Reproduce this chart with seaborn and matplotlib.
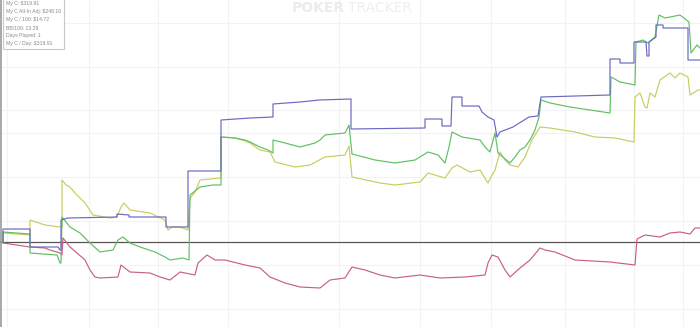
import matplotlib
matplotlib.use("Agg")
import matplotlib.pyplot as plt
import seaborn as sns
import pandas as pd
from matplotlib.patches import Rectangle

# ---- data (hand index, cumulative winnings) ----
blue_x = [1,3,3,30,30,58,60,61,61,68,117,117,129,129,166,166,188,188,221,221,
          250,273,273,300,319,351,351,425,425,442,442,451,452,462,462,479,482,488,494,497,
          500,513,529,538,541,610,610,620,620,634,634,646,647,649,649,656,656,663,663,688,
          688,700]
blue_y = [0,0,13,13,-5,-5,-8,-8,22,24,25,28,27,25,25,15,15,71,71,122,
          124,125,138,140,142,143,113,114,123,123,116,116,145,145,136,136,130,125,122,105,
          110,115,125,126,145,147,183,183,179,179,200,200,186,186,200,205,217,217,214,214,
          182,182]

green_x = [1,3,3,30,30,57,60,61,62,70,80,90,100,113,118,123,130,140,155,165,170,183,189,
           190,200,213,221,221,235,245,250,260,268,273,273,285,300,315,320,325,345,349,
           352,375,395,415,428,438,445,449,452,462,480,485,490,495,498,510,515,520,525,
           530,535,539,541,550,570,590,610,611,620,635,636,643,648,655,659,665,680,689,
           691,697,700]
green_y = [0,0,10,8,-11,-13,-21,-21,25,15,9,-1,-10,-8,2,5,-1,-5,-10,-15,-18,-16,-18,
           47,55,57,57,105,104,102,100,95,92,89,102,99,95,99,102,107,109,117,
           88,82,79,82,90,87,79,95,110,105,102,95,90,109,89,79,85,92,95,
           102,112,125,142,139,135,132,129,165,160,157,200,202,199,205,227,224,227,220,
           189,197,194]

yellow_x = [1,3,3,30,30,45,60,62,62,66,70,75,85,93,110,117,121,124,130,150,165,168,172,
            180,188,190,195,200,220,221,221,235,245,250,260,270,275,295,310,325,345,349,
            352,380,395,420,428,445,452,457,470,480,486,488,492,495,500,505,510,518,525,
            532,540,550,575,595,615,634,635,640,645,647,650,655,660,670,675,680,688,690,
            698,700]
yellow_y = [0,0,9,7,22,17,15,15,62,57,55,49,39,27,24,25,35,39,32,29,22,12,15,
            15,12,44,50,62,64,64,105,104,101,99,92,90,80,75,77,85,87,96,
            65,59,57,60,69,64,74,77,70,72,62,59,67,72,90,82,77,75,85,
            102,115,114,110,105,104,100,145,149,135,134,149,145,162,169,164,169,165,147,
            152,152]

red_x = [1,3,30,45,50,60,62,63,70,77,85,90,95,100,118,121,130,150,160,170,180,195,198,
         207,215,225,245,260,270,285,300,320,330,345,352,365,380,395,420,440,465,485,
         488,492,498,505,510,520,530,540,545,555,575,610,635,637,645,660,670,680,690,
         695,700]
red_y = [0,-1,-5,-6,-8,-11,-13,4,-5,-11,-18,-28,-35,-36,-35,-23,-30,-31,-35,-38,-30,-33,-21,
         -13,-18,-18,-23,-26,-35,-41,-45,-46,-38,-36,-25,-28,-33,-36,-33,-36,-35,-33,
         -21,-13,-15,-28,-35,-26,-18,-6,-8,-10,-18,-20,-23,3,7,5,9,10,8,
         14,14]

legend_lines = ["My C: $319.91", "My C All-In Adj: $248.16", "My C / 100: $14.72",
                "BB/100: 13.29", "Days Played: 1", "My C / Day: $319.91"]

series = [
    ("red", red_x, red_y, "#c8607e"),
    ("yellow", yellow_x, yellow_y, "#c9cc5e"),
    ("green", green_x, green_y, "#5fbf62"),
    ("blue", blue_x, blue_y, "#6a68c2"),
]

sns.set_theme(style="white")
plt.rcParams["font.family"] = ["Liberation Sans Narrow", "Liberation Sans", "DejaVu Sans"]

fig = plt.figure(figsize=(7.0, 3.27), dpi=100)
ax = fig.add_axes([0, 0, 1, 1])
ax.set_xlim(0, 700)
ax.set_ylim(-85, 242)

# faint grid
for gx in [7, 89, 158, 228, 339, 420, 491, 565, 634, 683]:
    ax.axvline(gx, color="#f2f2f4", lw=0.8, zorder=0)
for gy in [219, 175, 132, 109, 65, 21, -23, -67]:
    ax.axhline(gy, color="#f2f2f4", lw=0.8, zorder=0)

# watermark
ax.text(345, 241, "POKER", color="#ececec", fontsize=10, fontweight="bold",
        ha="right", va="top", family=["DejaVu Sans"], zorder=1)
ax.text(348, 241, "TRACKER", color="#efefef", fontsize=10,
        ha="left", va="top", family=["DejaVu Sans"], zorder=1)

for name, xs, ys, col in series:
    df = pd.DataFrame({"hand": xs, "won": ys})
    sns.lineplot(data=df, x="hand", y="won", sort=False, estimator=None,
                 color=col, lw=0.85, ax=ax, zorder=3)

ax.axhline(0, color="#555555", lw=0.9, zorder=2)
ax.axvline(1, color="#9a9a9a", lw=1.2, zorder=4)

# stats box
ax.add_patch(Rectangle((3, 193), 61, 60, facecolor="white", edgecolor="#c8c8c8",
                       lw=0.8, zorder=5))
for i, t in enumerate(legend_lines):
    ax.text(6, 238 - 8 * i, t, color="#8a8a8a", fontsize=3.7, ha="left",
            va="center", zorder=6)

ax.set_xlabel("")
ax.set_ylabel("")
ax.set_xticks([])
ax.set_yticks([])
for s in ax.spines.values():
    s.set_visible(False)

fig.savefig("out.png", dpi=100)
